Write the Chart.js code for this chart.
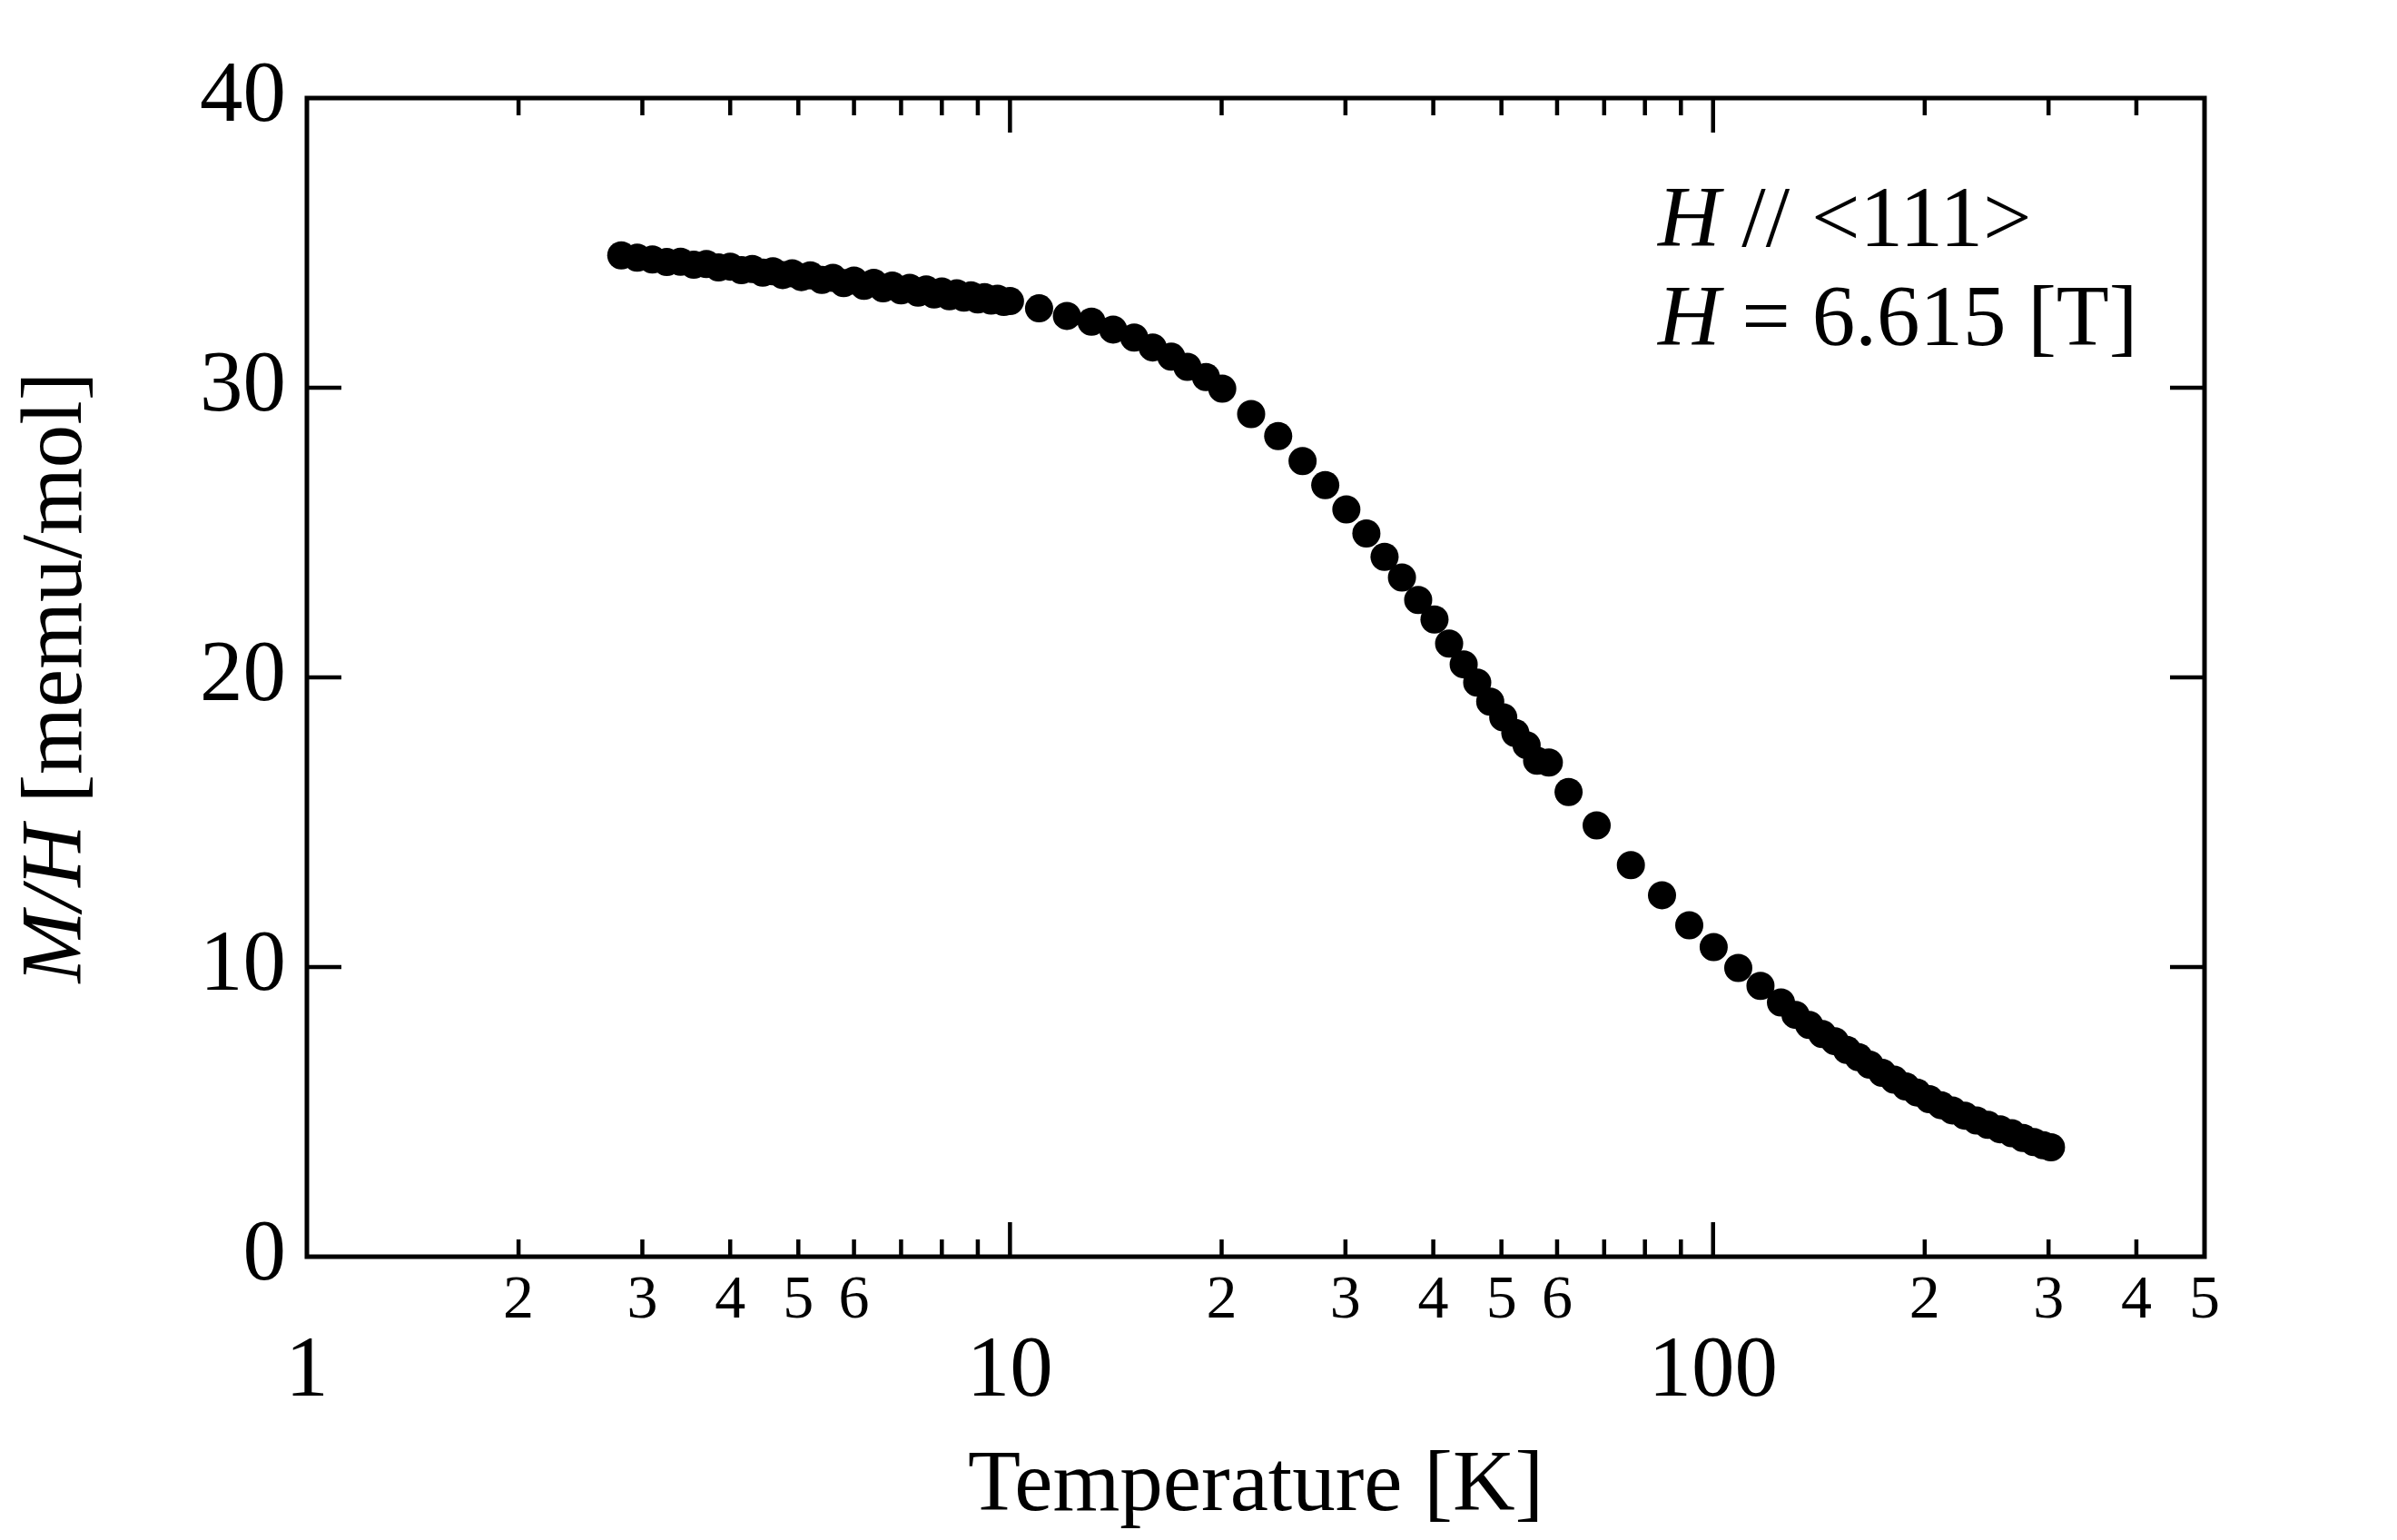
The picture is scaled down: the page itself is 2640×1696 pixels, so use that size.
<!DOCTYPE html>
<html>
<head>
<meta charset="utf-8">
<script src="https://cdn.jsdelivr.net/npm/chart.js@4.4.1/dist/chart.umd.min.js"></script>
<style>
  html, body { margin: 0; padding: 0; background: #fff; }
  canvas { display: block; }
</style>
</head>
<body>
<canvas id="chart" width="2640" height="1696"></canvas>
<script>
// temperatures [K]
const temps = [
  2.8, 2.95, 3.1, 3.25, 3.4, 3.55, 3.7, 3.85, 4.0, 4.15, 4.3, 4.45, 4.6, 4.75,
  4.9, 5.05, 5.2, 5.4, 5.6, 5.8, 6.0, 6.2, 6.4, 6.6, 6.8, 7.0, 7.2, 7.4, 7.6,
  7.8, 8.0, 8.2, 8.4, 8.6, 8.8, 9.0, 9.2, 9.4, 9.6, 9.8, 10.0,
  11.0, 12.05, 13.06, 14.02, 15.02, 15.96, 16.96, 17.88, 19.0, 20.04, 22.03,
  24.07, 26.07, 28.08, 30.09, 32.13, 34.1, 36.1, 38.07, 40.16, 42.13, 44.19,
  46.19, 48.2, 50.3, 52.33, 54.3, 56.2, 58.4, 62.3, 68.3, 76.4, 84.6, 92.5,
  100.2, 108.6, 116.8, 124.9, 131, 137, 143, 149, 155, 161, 167, 174, 181,
  188, 195, 203, 211, 219, 228, 237, 246, 256, 266, 276, 286, 295, 302.4,
];
// M/H [memu/mol]
const mh = [
  34.57, 34.49, 34.43, 34.34, 34.35, 34.25, 34.27, 34.15, 34.18, 34.06, 34.1,
  33.97, 34.02, 33.89, 33.95, 33.82, 33.88, 33.72, 33.79, 33.61, 33.7, 33.52,
  33.62, 33.43, 33.53, 33.36, 33.45, 33.28, 33.39, 33.22, 33.32, 33.16, 33.26,
  33.11, 33.19, 33.05, 33.13, 33.01, 33.07, 32.96, 32.99,
  32.74, 32.48, 32.28, 32.01, 31.73, 31.39, 31.07, 30.72, 30.37, 29.97, 29.09,
  28.33, 27.47, 26.64, 25.8, 24.97, 24.16, 23.45, 22.67, 22.0, 21.17, 20.45,
  19.82, 19.16, 18.62, 18.08, 17.66, 17.12, 17.06, 16.04, 14.89, 13.52, 12.48,
  11.44, 10.69, 9.97, 9.35, 8.78, 8.35, 8.0, 7.69, 7.44, 7.14, 6.89, 6.63,
  6.35, 6.11, 5.88, 5.67, 5.44, 5.23, 5.05, 4.87, 4.7, 4.55, 4.4, 4.26, 4.1,
  3.96, 3.85, 3.78,
];

// axis ticks
const xMajorTicks = [1, 10, 100];
const xMajorLabels = ["1", "10", "100"];
const xMinorTicks = [2, 3, 4, 5, 6, 7, 8, 9, 20, 30, 40, 50, 60, 70, 80, 90, 200, 300, 400];
const xMinorLabelValues = [2, 3, 4, 5, 6, 20, 30, 40, 50, 60, 200, 300, 400, 500];
const xMinorLabels = ["2", "3", "4", "5", "6", "2", "3", "4", "5", "6", "2", "3", "4", "5"];
const yTicks = [0, 10, 20, 30, 40];

const FONT = "'Liberation Serif', 'Times New Roman', 'DejaVu Serif', serif";

// рамка, внутренние засечки, подписи
const framePlugin = {
  id: "frame",
  afterDraw(chart) {
    const ctx = chart.ctx;
    const { left, right, top, bottom } = chart.chartArea;
    const xs = chart.scales.x;
    const ys = chart.scales.y;

    ctx.save();
    ctx.strokeStyle = "#000";
    ctx.fillStyle = "#000";

    // ticks
    ctx.lineWidth = 4.5;
    ctx.beginPath();
    xMajorTicks.forEach((v) => {
      const px = xs.getPixelForValue(v);
      if (px <= left + 2 || px >= right - 2) return;
      ctx.moveTo(px, bottom); ctx.lineTo(px, bottom - 38);
      ctx.moveTo(px, top); ctx.lineTo(px, top + 38);
    });
    xMinorTicks.forEach((v) => {
      const px = xs.getPixelForValue(v);
      ctx.moveTo(px, bottom); ctx.lineTo(px, bottom - 19);
      ctx.moveTo(px, top); ctx.lineTo(px, top + 19);
    });
    yTicks.forEach((v) => {
      const py = ys.getPixelForValue(v);
      if (py <= top + 2 || py >= bottom - 2) return;
      ctx.moveTo(left, py); ctx.lineTo(left + 38, py);
      ctx.moveTo(right, py); ctx.lineTo(right - 38, py);
    });
    ctx.stroke();

    // frame
    ctx.lineWidth = 5;
    ctx.strokeRect(left, top, right - left, bottom - top);

    // x tick labels
    ctx.textAlign = "center";
    ctx.textBaseline = "alphabetic";
    ctx.font = "68px " + FONT;
    xMinorLabelValues.forEach((v, i) => {
      ctx.fillText(xMinorLabels[i], xs.getPixelForValue(v), bottom + 67);
    });
    ctx.font = "95px " + FONT;
    xMajorTicks.forEach((v, i) => {
      ctx.fillText(xMajorLabels[i], xs.getPixelForValue(v), bottom + 153);
    });

    // y title
    ctx.save();
    ctx.translate(89, (top + bottom) / 2);
    ctx.rotate(-Math.PI / 2);
    ctx.textAlign = "left";
    const itFont = "italic 95px " + FONT;
    const rgFont = "95px " + FONT;
    ctx.font = itFont;
    const w1 = ctx.measureText("M/H").width;
    ctx.font = rgFont;
    const w2 = ctx.measureText(" [memu/mol]").width;
    let x0 = -(w1 + w2) / 2;
    ctx.font = itFont;
    ctx.fillText("M/H", x0, 0);
    ctx.font = rgFont;
    ctx.fillText(" [memu/mol]", x0 + w1, 0);
    ctx.restore();

    // annotation
    const ax = left + 1488;
    const lines = [
      ["H", " // <111>"],
      ["H", " = 6.615 [T]"],
    ];
    const baselines = [top + 163, top + 272];
    ctx.textAlign = "left";
    lines.forEach((parts, i) => {
      ctx.font = itFont;
      ctx.fillText(parts[0], ax, baselines[i]);
      const w = ctx.measureText(parts[0]).width;
      ctx.font = rgFont;
      ctx.fillText(parts[1], ax + w, baselines[i]);
    });

    ctx.restore();
  },
};

const bgPlugin = {
  id: "bg",
  beforeDraw(chart) {
    const ctx = chart.ctx;
    ctx.save();
    ctx.fillStyle = "#fff";
    ctx.fillRect(0, 0, chart.width, chart.height);
    ctx.restore();
  },
};

const chartEl = document.getElementById("chart");

new Chart(chartEl, {
  type: "scatter",
  data: {
    datasets: [
      {
        data: temps.map((t, i) => ({ x: t, y: mh[i] })),
        backgroundColor: "#000",
        borderColor: "#000",
        borderWidth: 0,
        pointRadius: 15.5,
        pointHoverRadius: 15.5,
      },
    ],
  },
  options: {
    responsive: false,
    animation: false,
    devicePixelRatio: 1,
    layout: {
      padding: { top: 108, right: 212, left: 0, bottom: 0 },
    },
    scales: {
      x: {
        type: "logarithmic",
        min: 1,
        max: 500,
        grid: { display: false, drawTicks: false },
        border: { display: false },
        ticks: { display: false },
        title: {
          display: true,
          text: "Temperature [K]",
          color: "#000",
          font: { family: FONT, size: 95, lineHeight: 1 },
          padding: { top: 0, bottom: 10 },
        },
        afterFit(scale) {
          scale.height = 312;
        },
      },
      y: {
        min: 0,
        max: 40,
        grid: { display: false, drawTicks: false },
        border: { display: false },
        afterBuildTicks(scale) {
          scale.ticks = yTicks.map((v) => ({ value: v }));
        },
        ticks: {
          color: "#000",
          padding: 23,
          font: { family: FONT, size: 95 },
        },
        afterFit(scale) {
          scale.width = 338;
        },
      },
    },
    plugins: {
      legend: { display: false },
      tooltip: { enabled: false },
    },
  },
  plugins: [bgPlugin, framePlugin],
});
</script>
</body>
</html>
